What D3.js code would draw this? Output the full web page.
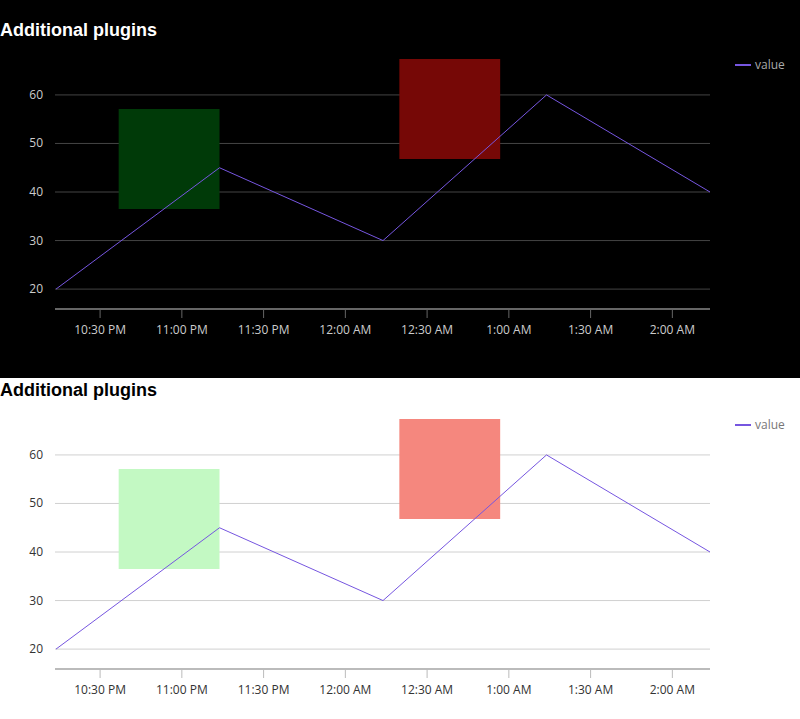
<!DOCTYPE html>
<html><head><meta charset="utf-8">
<script src="https://cdn.jsdelivr.net/npm/d3@7"></script>
<style>body{margin:0;background:#fff}svg{display:block}</style>
</head><body>
<svg id="c" width="800" height="719" font-family="Open Sans, sans-serif"></svg>
<script>
// data
var times = ["2024-01-01T22:14", "2024-01-01T23:14", "2024-01-02T00:14", "2024-01-02T01:14", "2024-01-02T02:14"];
var values = [20, 45, 30, 60, 40];
var yTicks = [20, 30, 40, 50, 60];
// highlight boxes: [start time, end time, top value, bottom value]
var boxes = [
  {t0: "2024-01-01T22:37", t1: "2024-01-01T23:14", v0: 57.1, v1: 36.5, dark: "#003a08", light: "#c3f9c3"},
  {t0: "2024-01-02T00:20", t1: "2024-01-02T00:57", v0: 67.4, v1: 46.8, dark: "#760806", light: "#f5877e"}
];

var parse = d3.timeParse("%Y-%m-%dT%H:%M");
var pts = times.map(function(t, i) { return {t: parse(t), v: values[i]}; });

var x = d3.scaleTime().domain(d3.extent(pts, function(d) { return d.t; })).range([56, 710]);
var y = d3.scaleLinear().domain([15.9, 67.4]).range([309, 59]);

var svg = d3.select("#c");
svg.append("rect").attr("width", 800).attr("height", 378).attr("fill", "#000");

function panel(oy, theme) {
  var g = svg.append("g").attr("transform", "translate(0," + oy + ")");
  var dark = theme == "dark";
  var fg = dark ? "#fff" : "#000";
  var tc = dark ? "#ccc" : "#333";
  var grid = dark ? "#444" : "#d0d0d0";

  g.append("text").attr("x", 0).attr("y", 36).attr("font-size", 18).attr("font-weight", "bold")
    .style("font-family", "Liberation Sans, Arial").attr("fill", fg).text("Additional plugins");

  g.selectAll(".grid").data(yTicks).enter().append("line")
    .attr("x1", 55).attr("x2", 710).attr("y1", function(d) { return y(d); }).attr("y2", function(d) { return y(d); })
    .attr("stroke", grid);
  g.selectAll(".yl").data(yTicks).enter().append("text")
    .attr("x", 43).attr("y", function(d) { return y(d) + 4; }).attr("text-anchor", "end")
    .attr("font-size", 12).attr("fill", tc).text(function(d) { return d; });

  g.selectAll(".box").data(boxes).enter().append("rect")
    .attr("x", function(d) { return x(parse(d.t0)); })
    .attr("width", function(d) { return x(parse(d.t1)) - x(parse(d.t0)); })
    .attr("y", function(d) { return y(d.v0); })
    .attr("height", function(d) { return y(d.v1) - y(d.v0); })
    .attr("fill", function(d) { return dark ? d.dark : d.light; });

  var ax = g.append("g").attr("transform", "translate(0,309)")
    .call(d3.axisBottom(x).ticks(d3.timeMinute.every(30)).tickFormat(d3.timeFormat("%-I:%M %p")).tickSize(9).tickSizeOuter(0));
  ax.select(".domain").attr("stroke", dark ? "#666" : "#bbb").attr("stroke-width", 2).attr("d", "M55,0H710");
  ax.selectAll(".tick line").attr("stroke", dark ? "#666" : "#bbb");
  ax.selectAll(".tick text").attr("fill", tc).attr("font-size", 12).attr("font-family", "Open Sans, sans-serif").attr("dy", "1.1em");

  g.append("path").datum(pts)
    .attr("d", d3.line().x(function(d) { return x(d.t); }).y(function(d) { return y(d.v); }))
    .attr("fill", "none").attr("stroke", "#7656e0").attr("stroke-width", 1);

  g.append("line").attr("x1", 735).attr("x2", 751).attr("y1", 65).attr("y2", 65).attr("stroke", "#7656e0").attr("stroke-width", 2);
  g.append("text").attr("x", 755).attr("y", 69).attr("font-size", 12).attr("fill", dark ? "#aaa" : "#777").text("value");
}
panel(0, "dark");
panel(360, "light");
</script>
</body></html>
